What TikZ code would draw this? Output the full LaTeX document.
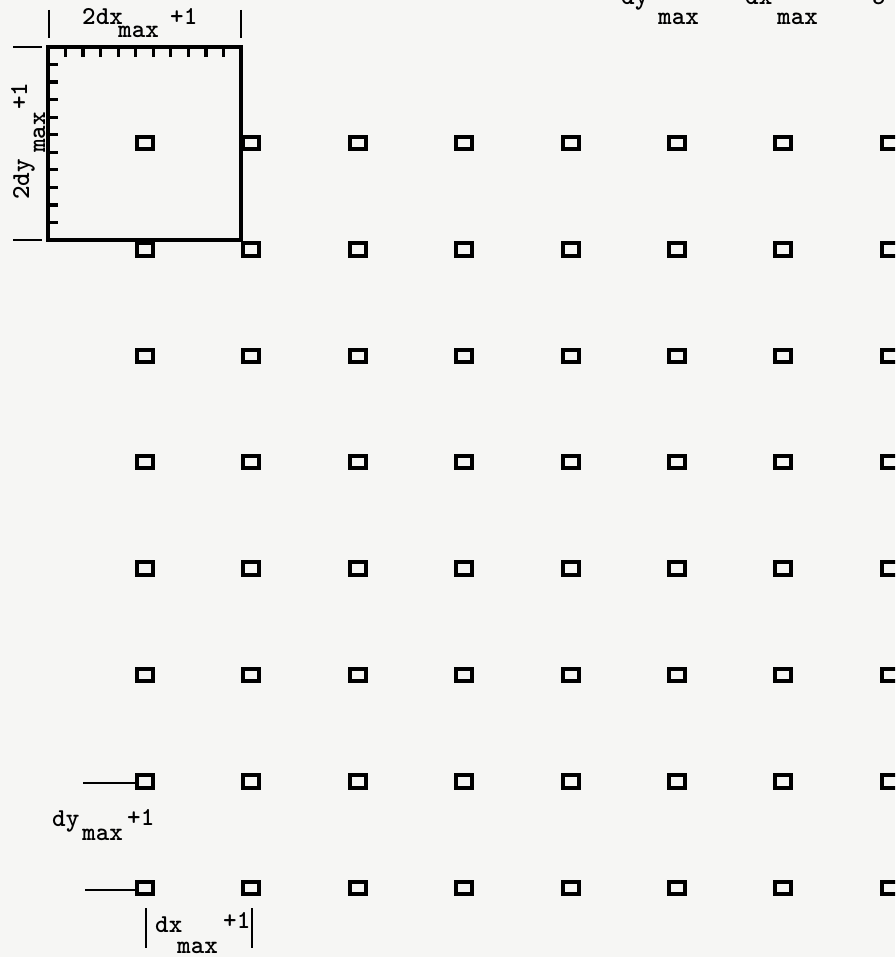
\documentclass[tikz,border=0pt]{standalone}
\usepackage{fontspec}
\setmonofont{lmmonolt10-bold.otf}
\usepackage{tikz}
\usetikzlibrary{positioning}
\usepackage{xcolor}
\definecolor{paperGrey}{HTML}{F6F6F4}
\tikzset{
  spot/.style={draw, line width=3.4pt, minimum width=0.48cm,
               minimum height=0.37cm, inner sep=0pt},
  tw/.style={font=\ttfamily\fontsize{22}{26}\selectfont,
             inner sep=0pt, anchor=base west},
  frame/.style={line width=2.8pt},
  tickmark/.style={line width=2.8pt},
  thinbar/.style={line width=2pt},
}

\begin{document}
\begin{tikzpicture}[x=0.03cm, y=-0.03cm]
  \fill[paperGrey] (0,0) rectangle (895,957);
  \useasboundingbox (0,0) rectangle (895,957);
  \clip (0,0) rectangle (895,957);

  % lattice of reference points
  \foreach \i in {1,...,8}
    \foreach \j in {1,...,8}
      \node[spot] (s\i\j) at ({145+(\i-1)*106.4}, {143+(\j-1)*106.4}) {};

  % search window round the first point
  \draw[frame] (48,47) rectangle (241,240);
  \foreach \k in {1,...,10} {
    \draw[tickmark] ({48+\k*17.55},47) -- ++(0,10);
    \draw[tickmark] (48,{47+\k*17.55}) -- ++(10,0);
  }

  % width of the window
  \draw[thinbar] (49,10) -- (49,38);
  \draw[thinbar] (241,10) -- (241,38);
  \node[tw] (wx)  at (82,25)  {2dx};
  \node[tw] (wxs) at (118,38) {max};
  \node[tw] (wxp) at (170,25) {+1};

  % height of the window
  \draw[thinbar] (13,47) -- (42,47);
  \draw[thinbar] (13,240) -- (42,240);
  \node[tw, rotate=90] (wy)  at (29,200) {2dy};
  \node[tw, rotate=90] (wys) at (45,153) {max};
  \node[tw, rotate=90] (wyp) at (27,110) {+1};

  % parameters, cut by the page top
  \node[tw] (pdy)  at (621,5)  {dy};
  \node[tw] (pdys) at (658,25) {max};
  \node[tw] (peq)  at (716,5)  {=};
  \node[tw] (pdx)  at (745,5)  {dx};
  \node[tw] (pdxs) at (777,25) {max};
  \node[tw] (peq2) at (843,5)  {=};
  \node[tw] (pval) at (872,5)  {5};

  % spacing of the lattice
  \coordinate (dyend) at (83,783);
  \draw[thinbar] (dyend) -- (dyend -| s17.west);
  \node[tw] (ly)  at (52,826)  {dy};
  \node[tw] (lys) at (82,840)  {max};
  \node[tw] (lyp) at (127,825) {+1};

  \coordinate (dxend) at (85,890);
  \draw[thinbar] (dxend) -- (dxend -| s18.west);
  \draw[thinbar] (146,908) -- (146,948);
  \draw[thinbar] (252,908) -- (252,948);
  \node[tw] (lx)  at (155,932) {dx};
  \node[tw] (lxs) at (177,953) {max};
  \node[tw] (lxp) at (223,928) {+1};
\end{tikzpicture}
\end{document}
